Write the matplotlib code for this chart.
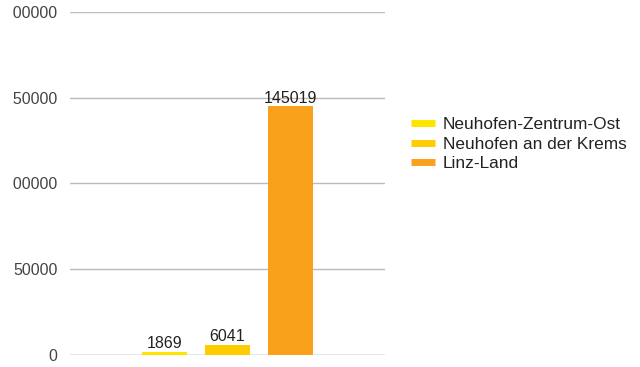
import matplotlib
matplotlib.use("Agg")
import matplotlib.pyplot as plt
from matplotlib.lines import Line2D
from matplotlib.transforms import Bbox, TransformedBbox, IdentityTransform

categories = ["Neuhofen-Zentrum-Ost", "Neuhofen an der Krems", "Linz-Land"]
values = [1869, 6041, 145019]
colors = ["#FFE400", "#FFCC00", "#F9A11B"]
yticks = [0, 50000, 100000, 150000, 200000]

plt.rcParams['font.family'] = ['Liberation Sans', 'DejaVu Sans']

fig = plt.figure(figsize=(6.4, 3.67), dpi=100)
W, H = 640, 367
ax = fig.add_axes([70 / W, 1 - 355 / H, 315 / W, (355 - 12) / H])

positions = list(range(len(values)))
for p, v, c, lab in zip(positions, values, colors, categories):
    ax.bar(p, v, width=0.714, color=c, label=lab, zorder=3)
    ax.annotate(str(v), xy=(p, v), xytext=(0, 0.5), textcoords="offset points",
                ha="center", va="bottom", fontsize=11.5, color="#222222", zorder=4)

ax.set_xlim(-1.5, 3.5)
ax.set_ylim(0, 200000)
ax.set_yticks(yticks)
ax.set_yticklabels([str(t) for t in yticks])
ax.set_xticks([])
for s in ax.spines.values():
    s.set_visible(False)
ax.tick_params(axis="y", length=0, pad=9, labelsize=11.5, labelcolor="#444444")
ax.grid(axis="y", color="#BBBBBB", linewidth=1, zorder=0)
ax.axhline(0, color="#AABBCC", linewidth=1, zorder=1)

clip = TransformedBbox(Bbox([[13, 0], [W, H]]), IdentityTransform())
for lbl in ax.get_yticklabels():
    lbl.set_clip_box(clip)
    lbl.set_clip_on(True)

handles = [Line2D([0], [0], color=c, lw=5, solid_capstyle="butt") for c in colors]
fig.legend(handles, categories, loc="center left", bbox_to_anchor=(411 / W, 1 - 144 / H),
           frameon=False, fontsize=12.4, handlelength=1.4, handletextpad=0.43,
           labelspacing=0.25, borderaxespad=0, borderpad=0, labelcolor="#222222")

fig.savefig("out.png", dpi=100)
